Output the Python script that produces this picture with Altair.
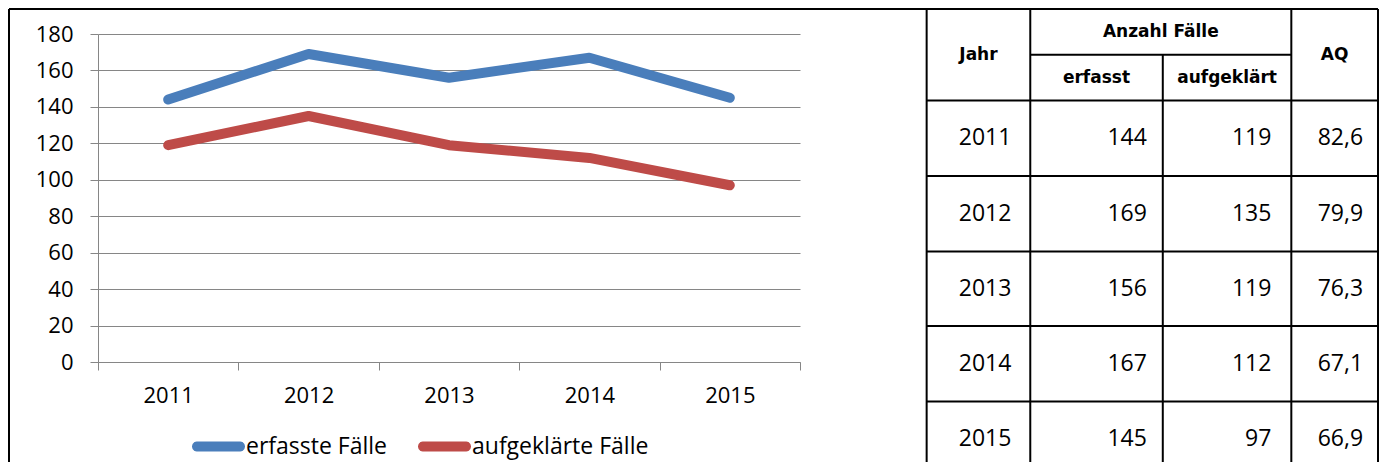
import math
import altair as alt
import pandas as pd

# ---- data ----
years = ["2011", "2012", "2013", "2014", "2015"]
erfasst = [144, 169, 156, 167, 145]
aufgeklaert = [119, 135, 119, 112, 97]
aq = ["82,6", "79,9", "76,3", "67,1", "66,9"]
series = ["erfasste Fälle", "aufgeklärte Fälle"]
colors = ["#4a7ebb", "#be4b48"]
y_ticks = [0, 20, 40, 60, 80, 100, 120, 140, 160, 180]
head_jahr = "Jahr"
head_group = "Anzahl Fälle"
head_sub = ["erfasst", "aufgeklärt"]
head_aq = "AQ"

# ---- table layout (reference px units) ----
col_widths = [921, 104, 133, 129, 87]
row_heights = [46, 46, 76, 76, 75, 76, 76]
right_pad = [19, 16, 20, 15]

col_edges = [0]
for w in col_widths:
    col_edges.append(col_edges[-1] + w)
row_edges = [0]
for h in row_heights:
    row_edges.append(row_edges[-1] + h)
total_w = col_edges[-1]
total_h = row_edges[-1]
e1, e2, e3, e4, e5 = col_edges[1:]

# ---- line chart data ----
line_rows = []
for s, vals in zip(series, [erfasst, aufgeklaert]):
    for y, v in zip(years, vals):
        line_rows.append({"Jahr": y, "Anzahl": v, "Reihe": s})
df_lines = pd.DataFrame(line_rows)

# ---- table rules ----
rule_rows = [
    {"x0": 0, "x1": total_w, "y0": 0, "y1": 0},          # frame top
    {"x0": 0, "x1": 0, "y0": 0, "y1": total_h},          # frame left
]
for e in [e1, e2, e4, e5]:
    rule_rows.append({"x0": e, "x1": e, "y0": 0, "y1": total_h})
rule_rows.append({"x0": e3, "x1": e3, "y0": row_edges[1], "y1": total_h})
rule_rows.append({"x0": e2, "x1": e4, "y0": row_edges[1], "y1": row_edges[1]})
for r in row_edges[2:-1]:
    rule_rows.append({"x0": e1, "x1": e5, "y0": r, "y1": r})
df_rules = pd.DataFrame(rule_rows)

# ---- table text ----
head_rows = [
    {"x": (e1 + e2) / 2, "y": (row_edges[0] + row_edges[2]) / 2, "t": head_jahr},
    {"x": (e2 + e4) / 2, "y": (row_edges[0] + row_edges[1]) / 2, "t": head_group},
    {"x": (e2 + e3) / 2, "y": (row_edges[1] + row_edges[2]) / 2, "t": head_sub[0]},
    {"x": (e3 + e4) / 2, "y": (row_edges[1] + row_edges[2]) / 2, "t": head_sub[1]},
    {"x": (e4 + e5) / 2, "y": (row_edges[0] + row_edges[2]) / 2, "t": head_aq},
]
df_head = pd.DataFrame(head_rows)

body_rows = []
rights = [e2, e3, e4, e5]
for i, yr in enumerate(years):
    yc = (row_edges[2 + i] + row_edges[3 + i]) / 2
    vals = [yr, str(erfasst[i]), str(aufgeklaert[i]), aq[i]]
    for j, v in enumerate(vals):
        body_rows.append({"x": rights[j] - right_pad[j], "y": yc, "t": v})
df_body = pd.DataFrame(body_rows)

# ---- scales ----
PW, PH = 702, 328
layout_x = alt.Scale(domain=[0, total_w], range=[-89, 1280], nice=False, zero=False)
layout_y = alt.Scale(domain=[0, 456], range=[-25, 428], nice=False, zero=False)

grey = "#868686"

# legend symbol: thin rounded-rectangle outline, stroked thickly -> solid pill
def pill_path(half_len=0.86, rad=0.1, steps=6):
    pts = [(-half_len, -rad), (half_len, -rad)]
    for k in range(1, steps):
        a = -math.pi / 2 + math.pi * k / steps
        pts.append((half_len + rad * math.cos(a), rad * math.sin(a)))
    pts += [(half_len, rad), (-half_len, rad)]
    for k in range(1, steps):
        a = math.pi / 2 + math.pi * k / steps
        pts.append((-half_len + rad * math.cos(a), rad * math.sin(a)))
    return "M" + "L".join(f"{x:.4f},{y:.4f}" for x, y in pts) + "Z"

pill = pill_path()

lines = alt.Chart(df_lines).mark_line(
    strokeWidth=10, strokeCap="round", strokeJoin="round"
).encode(
    x=alt.X("Jahr:N", sort=years, bandPosition=0.5,
            scale=alt.Scale(type="band", paddingInner=0, paddingOuter=0),
            axis=alt.Axis(title=None, labelAngle=0, tickBand="extent", tickSize=8,
                          tickColor=grey, domainColor=grey, grid=False,
                          labelFont="Open Sans", labelFontSize=22, labelColor="black",
                          labelPadding=15)),
    y=alt.Y("Anzahl:Q", scale=alt.Scale(domain=[0, 180], nice=False),
            axis=alt.Axis(title=None, values=y_ticks, tickSize=8, tickColor=grey,
                          domainColor=grey, grid=True, gridColor=grey, gridWidth=1,
                          labelFont="Open Sans", labelFontSize=22, labelColor="black",
                          labelPadding=17)),
    color=alt.Color("Reihe:N", sort=series,
                    scale=alt.Scale(domain=series, range=colors),
                    legend=alt.Legend(title=None, orient="none", legendX=93, legendY=385,
                                      direction="horizontal", symbolType=pill,
                                      symbolSize=2500, symbolStrokeWidth=5,
                                      labelFont="Open Sans", labelFontSize=23,
                                      labelColor="black", labelOffset=0,
                                      labelLimit=400, columnPadding=22)),
)

rules = alt.Chart(df_rules).mark_rule(strokeWidth=2, color="black").encode(
    x=alt.X("x0:Q", scale=layout_x, axis=None),
    x2="x1:Q",
    y=alt.Y("y0:Q", scale=layout_y, axis=None),
    y2="y1:Q",
)

head_text = alt.Chart(df_head).mark_text(
    font="DejaVu Sans", fontWeight="bold", fontSize=17, align="center",
    baseline="middle", color="black"
).encode(
    x=alt.X("x:Q", scale=layout_x, axis=None),
    y=alt.Y("y:Q", scale=layout_y, axis=None),
    text="t:N",
)

body_text = alt.Chart(df_body).mark_text(
    font="Open Sans", fontSize=23, align="right", baseline="middle", color="black"
).encode(
    x=alt.X("x:Q", scale=layout_x, axis=None),
    y=alt.Y("y:Q", scale=layout_y, axis=None),
    text="t:N",
)

chart = alt.layer(lines, rules, head_text, body_text).resolve_scale(
    x="independent", y="independent"
).properties(
    width=PW, height=PH,
    autosize=alt.AutoSizeParams(type="none"),
    padding={"left": 90, "top": 26, "right": 579, "bottom": 100},
).configure_view(stroke=None)

chart.save("out.html", embed_options={"renderer": "svg", "actions": False})
